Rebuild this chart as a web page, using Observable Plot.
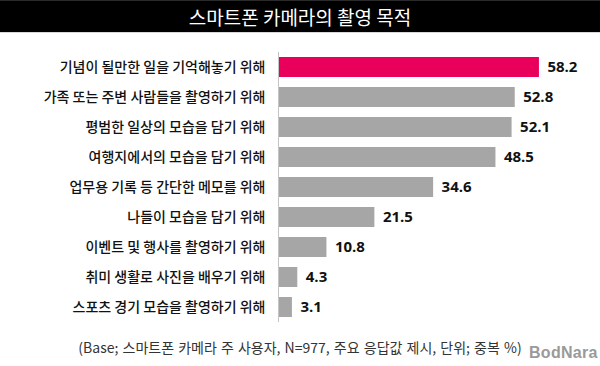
<!DOCTYPE html>
<html><head><meta charset="utf-8">
<script src="https://cdn.jsdelivr.net/npm/d3@7"></script>
<script src="https://cdn.jsdelivr.net/npm/@observablehq/plot@0.6"></script>
<style>
body{margin:0;background:#fff;width:600px;height:366px;overflow:hidden;font-family:"Noto Sans CJK KR",sans-serif}
#title{height:33px;background:#000;color:#fff;font-size:19px;line-height:32px;text-align:center;border-top:1px solid #2a2a2a;border-bottom:1px solid #d8d8d8;box-sizing:border-box}
#chart{height:299px}
#chart svg{display:block}
#foot{position:relative;height:34px}
#foot .note{position:absolute;left:0;right:0;top:6px;text-align:center;font-size:14px;word-spacing:1px;color:#333;line-height:18px}
#foot .logo{position:absolute;left:529px;top:12px;font-family:"Liberation Sans",sans-serif;font-weight:bold;font-size:16px;color:#9a9a9a;letter-spacing:0.3px}
</style>
</head><body>
<div id="title">스마트폰 카메라의 촬영 목적</div>
<div id="chart"></div>
<div id="foot"><div class="note">(Base; 스마트폰 카메라 주 사용자, N=977, 주요 응답값 제시, 단위; 중복 %)</div><div class="logo">BodNara</div></div>
<script>
const categories = [
  "기념이 될만한 일을 기억해놓기 위해",
  "가족 또는 주변 사람들을 촬영하기 위해",
  "평범한 일상의 모습을 담기 위해",
  "여행지에서의 모습을 담기 위해",
  "업무용 기록 등 간단한 메모를 위해",
  "나들이 모습을 담기 위해",
  "이벤트 및 행사를 촬영하기 위해",
  "취미 생활로 사진을 배우기 위해",
  "스포츠 경기 모습을 촬영하기 위해"
];
const values = [58.2, 52.8, 52.1, 48.5, 34.6, 21.5, 10.8, 4.3, 3.1];
const highlight = categories[0];
const colors = {highlight: "#e8005a", other: "#a6a6a6"};

const data = categories.map((c, i) => ({label: c, value: values[i]}));

const chart = Plot.plot({
  width: 600,
  height: 299,
  marginTop: 19,
  marginBottom: 10,
  marginLeft: 278,
  marginRight: 53,
  x: {domain: [0, 60], axis: null},
  y: {domain: categories, paddingInner: 1/3, paddingOuter: 1/6, axis: null},
  color: {type: "identity"},
  style: {fontFamily: "'Noto Sans CJK KR', sans-serif", color: "#222", background: "#fff"},
  marks: [
    Plot.barX(data, {x: "value", y: "label", fill: d => d.label === highlight ? colors.highlight : colors.other}),
    Plot.ruleX([0], {stroke: "#c4c4c4", strokeWidth: 1}),
    Plot.text(data, {x: "value", y: "label", text: d => d.value.toFixed(1), dx: 8, textAnchor: "start",
      fontWeight: "bold", fontSize: 15, fontFamily: "'Open Sans', sans-serif", fill: "#111"}),
    Plot.axisY({tickSize: 0, tickPadding: 13, fontSize: 14, fontWeight: 500, label: null, fill: "#111"})
  ]
});
document.getElementById("chart").appendChild(chart);
</script>
</body></html>
